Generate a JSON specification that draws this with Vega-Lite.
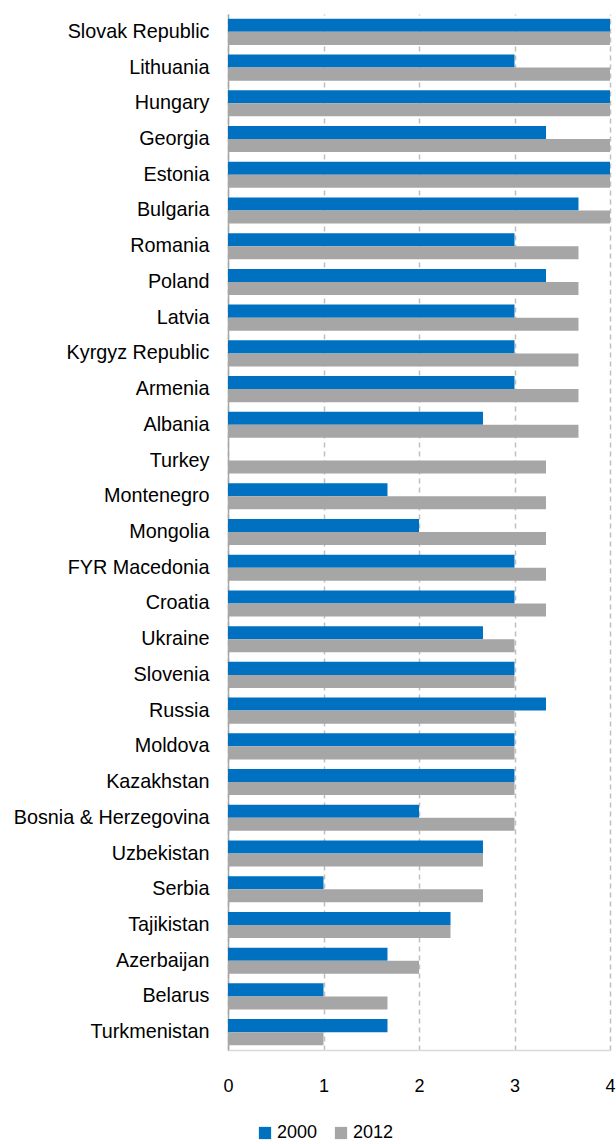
{
  "$schema": "https://vega.github.io/schema/vega-lite/v6.json",
  "autosize": "none",
  "width": 382,
  "height": 1036,
  "padding": {"left": 228, "top": 14, "right": 6, "bottom": 94},
  "background": "white",
  "config": {"view": {"stroke": null}, "font": "Liberation Sans"},
  "data": {"values": [
    {"country": "Slovak Republic", "year": "2000", "value": 4},
    {"country": "Slovak Republic", "year": "2012", "value": 4},
    {"country": "Lithuania", "year": "2000", "value": 3},
    {"country": "Lithuania", "year": "2012", "value": 4},
    {"country": "Hungary", "year": "2000", "value": 4},
    {"country": "Hungary", "year": "2012", "value": 4},
    {"country": "Georgia", "year": "2000", "value": 3.33},
    {"country": "Georgia", "year": "2012", "value": 4},
    {"country": "Estonia", "year": "2000", "value": 4},
    {"country": "Estonia", "year": "2012", "value": 4},
    {"country": "Bulgaria", "year": "2000", "value": 3.67},
    {"country": "Bulgaria", "year": "2012", "value": 4},
    {"country": "Romania", "year": "2000", "value": 3},
    {"country": "Romania", "year": "2012", "value": 3.67},
    {"country": "Poland", "year": "2000", "value": 3.33},
    {"country": "Poland", "year": "2012", "value": 3.67},
    {"country": "Latvia", "year": "2000", "value": 3},
    {"country": "Latvia", "year": "2012", "value": 3.67},
    {"country": "Kyrgyz Republic", "year": "2000", "value": 3},
    {"country": "Kyrgyz Republic", "year": "2012", "value": 3.67},
    {"country": "Armenia", "year": "2000", "value": 3},
    {"country": "Armenia", "year": "2012", "value": 3.67},
    {"country": "Albania", "year": "2000", "value": 2.67},
    {"country": "Albania", "year": "2012", "value": 3.67},
    {"country": "Turkey", "year": "2000", "value": null},
    {"country": "Turkey", "year": "2012", "value": 3.33},
    {"country": "Montenegro", "year": "2000", "value": 1.67},
    {"country": "Montenegro", "year": "2012", "value": 3.33},
    {"country": "Mongolia", "year": "2000", "value": 2},
    {"country": "Mongolia", "year": "2012", "value": 3.33},
    {"country": "FYR Macedonia", "year": "2000", "value": 3},
    {"country": "FYR Macedonia", "year": "2012", "value": 3.33},
    {"country": "Croatia", "year": "2000", "value": 3},
    {"country": "Croatia", "year": "2012", "value": 3.33},
    {"country": "Ukraine", "year": "2000", "value": 2.67},
    {"country": "Ukraine", "year": "2012", "value": 3},
    {"country": "Slovenia", "year": "2000", "value": 3},
    {"country": "Slovenia", "year": "2012", "value": 3},
    {"country": "Russia", "year": "2000", "value": 3.33},
    {"country": "Russia", "year": "2012", "value": 3},
    {"country": "Moldova", "year": "2000", "value": 3},
    {"country": "Moldova", "year": "2012", "value": 3},
    {"country": "Kazakhstan", "year": "2000", "value": 3},
    {"country": "Kazakhstan", "year": "2012", "value": 3},
    {"country": "Bosnia & Herzegovina", "year": "2000", "value": 2},
    {"country": "Bosnia & Herzegovina", "year": "2012", "value": 3},
    {"country": "Uzbekistan", "year": "2000", "value": 2.67},
    {"country": "Uzbekistan", "year": "2012", "value": 2.67},
    {"country": "Serbia", "year": "2000", "value": 1},
    {"country": "Serbia", "year": "2012", "value": 2.67},
    {"country": "Tajikistan", "year": "2000", "value": 2.33},
    {"country": "Tajikistan", "year": "2012", "value": 2.33},
    {"country": "Azerbaijan", "year": "2000", "value": 1.67},
    {"country": "Azerbaijan", "year": "2012", "value": 2},
    {"country": "Belarus", "year": "2000", "value": 1},
    {"country": "Belarus", "year": "2012", "value": 1.67},
    {"country": "Turkmenistan", "year": "2000", "value": 1.67},
    {"country": "Turkmenistan", "year": "2012", "value": 1}
  ]},
  "mark": {"type": "bar"},
  "encoding": {
    "y": {
      "field": "country", "type": "nominal", "sort": null, "title": null,
      "scale": {"paddingInner": 0.27, "paddingOuter": 0.135},
      "axis": {
        "ticks": false, "labelPadding": 19, "labelFontSize": 19.8, "labelColor": "#000000",
        "domain": true, "domainColor": "#A6A6A6", "domainWidth": 1.5, "labelFont": "Liberation Sans",
        "labelLimit": 300
      }
    },
    "yOffset": {"field": "year", "type": "nominal", "scale": {"paddingInner": 0}},
    "x": {
      "field": "value", "type": "quantitative", "title": null,
      "scale": {"domain": [0, 4], "nice": false},
      "axis": {
        "values": [0, 1, 2, 3, 4], "ticks": false, "labelPadding": 27, "labelFontSize": 18,
        "labelColor": "#000000", "labelFont": "Liberation Sans", "grid": true, "gridDash": [5, 4],
        "gridColor": "#BFBFBF", "gridWidth": 1.5, "domainColor": "#D9D9D9", "domainWidth": 1.5,
        "labelFlush": false
      }
    },
    "color": {
      "field": "year", "type": "nominal", "title": null,
      "scale": {"domain": ["2000", "2012"], "range": ["#0070C0", "#A6A6A6"]},
      "legend": {
        "orient": "none", "legendX": 28, "legendY": 1110, "direction": "horizontal",
        "symbolType": "square", "symbolSize": 150, "symbolStrokeWidth": 0, "labelFontSize": 18,
        "labelFont": "Liberation Sans", "labelColor": "#000000", "columnPadding": 14, "labelOffset": 3
      }
    }
  }
}
